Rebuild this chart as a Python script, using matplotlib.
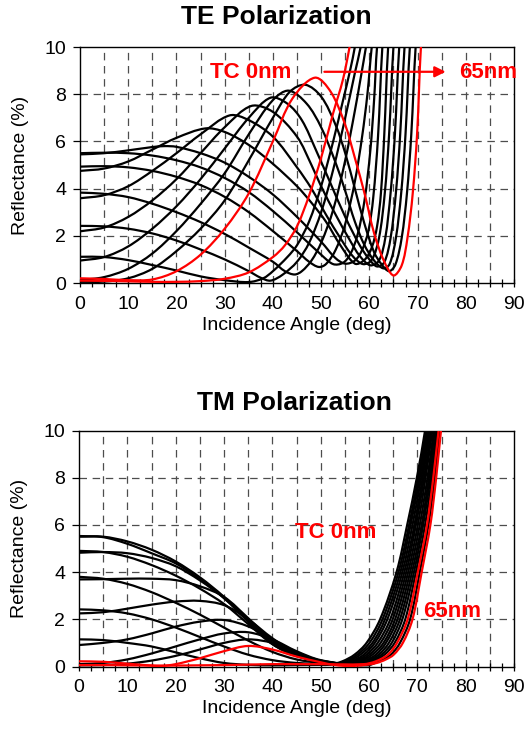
import numpy as np
import matplotlib
matplotlib.use("Agg")
import matplotlib.pyplot as plt
from matplotlib.path import Path
from matplotlib.patches import PathPatch
from matplotlib.ticker import MultipleLocator

plt.rcParams['font.family'] = ['Liberation Sans', 'DejaVu Sans']

# TC thickness of each curve (nm)
thickness = [0, 5, 10, 15, 20, 25, 30, 35, 40, 45, 50, 55, 60, 65]

# ---- TE polarization (deg, %) ----
te0_deg = [0, 5, 10, 15, 20, 25, 30, 35, 40, 42.5, 45, 47.5, 50, 52.5, 54.5, 55.9, 56.5]
te0_r = [0.1, 0.09, 0.07, 0.05, 0.05, 0.08, 0.18, 0.45, 1.1, 1.6, 2.4, 3.7, 5.3, 7.2, 8.6, 10, 10.8]
te5_deg = [0, 5, 10, 15, 20, 25, 30, 35, 38, 40, 43, 45, 47.5, 50, 52.5, 54.5, 56, 57, 57.6]
te5_r = [1.11, 1.1, 0.97, 0.76, 0.53, 0.28, 0.12, 0.04, 0.2, 0.5, 1.1, 1.6, 2.6, 4.1, 6.0, 7.7, 9.0, 10, 10.8]
te10_deg = [0, 5, 10, 15, 20, 25, 30, 35, 37.5, 39.5, 42, 45, 47.5, 50, 52.5, 55, 57, 58.2, 58.8]
te10_r = [2.42, 2.4, 2.3, 2.1, 1.8, 1.42, 1.0, 0.5, 0.22, 0.1, 0.35, 0.9, 1.7, 3.0, 4.8, 7.0, 8.9, 10, 10.8]
te15_deg = [0, 5, 10, 15, 20, 25, 30, 35, 40, 42.5, 44.5, 46, 48, 50, 52.5, 55, 57, 58.3, 59.3, 59.9]
te15_r = [3.83, 3.78, 3.64, 3.36, 3.0, 2.58, 2.08, 1.5, 0.9, 0.5, 0.36, 0.5, 0.95, 1.7, 3.1, 5.2, 7.3, 8.8, 10, 10.8]
te20_deg = [0, 5, 10, 15, 20, 25, 30, 35, 40, 45, 47.5, 49.5, 51, 53, 55, 57, 58.5, 59.6, 60.5, 61.1]
te20_r = [4.93, 4.95, 4.9, 4.75, 4.5, 4.15, 3.65, 3.0, 2.2, 1.35, 0.9, 0.68, 0.8, 1.4, 2.5, 4.3, 6.2, 8.0, 10, 10.8]
te25_deg = [0, 5, 10, 15, 20, 25, 30, 35, 40, 45, 50, 52.5, 54.5, 56, 57.5, 59, 60.2, 61, 61.6, 62.2]
te25_r = [5.5, 5.52, 5.5, 5.4, 5.2, 4.9, 4.45, 3.85, 3.05, 2.15, 1.2, 0.8, 0.85, 1.2, 2.0, 3.5, 5.6, 7.8, 10, 10.8]
te30_deg = [0, 5, 10, 15, 17.5, 20, 25, 30, 35, 40, 45, 50, 53, 55, 57, 58.5, 59.8, 60.8, 61.8, 62.7, 63.2]
te30_r = [5.45, 5.5, 5.62, 5.76, 5.8, 5.77, 5.5, 5.1, 4.5, 3.75, 2.8, 1.75, 1.05, 0.82, 0.95, 1.4, 2.2, 3.6, 6.2, 10, 10.8]
te35_deg = [0, 5, 10, 15, 20, 26, 30, 35, 40, 45, 48, 51, 54, 57, 59, 60.5, 61.6, 62.4, 63.1, 63.9, 64.4]
te35_r = [4.75, 4.85, 5.15, 5.65, 6.15, 6.55, 6.4, 5.85, 5.05, 4.1, 3.4, 2.6, 1.6, 0.82, 0.98, 1.5, 2.4, 3.8, 6.3, 10, 10.8]
te40_deg = [0, 5, 10, 15, 20, 25, 31, 35, 40, 45, 48, 51, 54, 56.5, 58.7, 60.5, 62, 63.2, 64.1, 65.0, 65.5]
te40_r = [3.59, 3.72, 4.1, 4.75, 5.5, 6.3, 7.1, 6.9, 6.2, 4.9, 4.0, 2.9, 1.9, 1.15, 0.8, 0.98, 1.9, 3.8, 6.3, 10, 10.8]
te45_deg = [0, 5, 10, 15, 20, 25, 30, 35.5, 40, 45, 48, 50, 53, 56, 58, 60.2, 62, 63.3, 64.4, 65.3, 66.2, 66.7]
te45_r = [2.19, 2.35, 2.8, 3.5, 4.4, 5.5, 6.6, 7.5, 7.25, 6.2, 5.0, 4.1, 2.9, 1.8, 1.15, 0.75, 0.95, 1.9, 3.8, 6.3, 10, 10.8]
te50_deg = [0, 5, 10, 15, 20, 25, 30, 35, 39.5, 43, 46, 49, 52, 55, 58, 60, 61.6, 63.1, 64.4, 65.5, 66.4, 67.3, 67.8]
te50_r = [0.95, 1.1, 1.55, 2.3, 3.25, 4.4, 5.7, 7.0, 7.85, 7.6, 6.9, 5.6, 4.2, 2.8, 1.6, 1.0, 0.7, 0.88, 1.9, 3.8, 6.3, 10, 10.8]
te55_deg = [0, 5, 10, 15, 20, 25, 30, 35, 40, 43.3, 47, 50, 53, 55, 57, 59, 61, 62.9, 64.2, 65.5, 66.6, 67.5, 68.4, 68.9]
te55_r = [0.12, 0.25, 0.6, 1.25, 2.2, 3.35, 4.65, 6.3, 7.75, 8.15, 7.6, 6.6, 5.1, 3.9, 2.6, 1.6, 0.95, 0.62, 0.8, 1.9, 3.8, 6.3, 10, 10.8]
te60_deg = [0, 5, 10, 15, 20, 25, 30, 35, 40, 43.5, 46.7, 50, 53, 55, 57, 59, 61, 62.5, 64.1, 65.4, 66.7, 67.8, 68.7, 69.6, 70.1]
te60_r = [0.05, 0.06, 0.2, 0.6, 1.35, 2.3, 3.5, 5.2, 7.0, 8.1, 8.4, 7.9, 6.7, 5.5, 4.0, 2.5, 1.3, 0.8, 0.5, 0.78, 1.9, 3.8, 6.3, 10, 10.8]
te65_deg = [0, 5, 10, 15, 20, 25, 30, 35, 40, 44, 48.7, 52, 55, 57, 59, 61, 63, 65, 66.7, 67.9, 69, 69.9, 70.7, 71.2]
te65_r = [0.2, 0.17, 0.12, 0.15, 0.5, 1.2, 2.3, 3.8, 6.0, 7.8, 8.7, 8.1, 6.7, 5.3, 3.8, 2.1, 0.95, 0.32, 0.74, 1.9, 3.8, 6.3, 10, 10.8]

# ---- TM polarization ----
tm0_deg = [0, 5, 10, 15, 20, 25, 30, 35, 40, 45, 50, 58.9, 61.4, 63.9, 65.8, 68.0, 70.1, 72.0, 73.3, 74.4, 74.9]
tm0_r = [0.06, 0.06, 0.05, 0.04, 0.04, 0.05, 0.06, 0.08, 0.1, 0.1, 0.1, 0.1, 0.22, 0.5, 1, 2, 4, 6, 8, 10, 10.8]
tm5_deg = [0, 5, 10, 15, 20, 25, 30, 35, 40, 45, 50, 52, 54.5, 57.0, 59.5, 62.3, 65.7, 67.9, 69.9, 71.6, 72.1]
tm5_r = [1.15, 1.12, 1.0, 0.85, 0.6, 0.35, 0.15, 0.07, 0.05, 0.06, 0.07, 0.08, 0.22, 0.5, 1, 2, 4, 6, 8, 10, 10.8]
tm10_deg = [0, 5, 10, 15, 20, 25, 30, 35, 40, 45, 50, 52.6, 55.1, 57.6, 60.1, 62.8, 66.1, 68.3, 70.2, 71.9, 72.4]
tm10_r = [2.42, 2.38, 2.25, 2.0, 1.65, 1.25, 0.85, 0.5, 0.27, 0.15, 0.11, 0.1, 0.22, 0.5, 1, 2, 4, 6, 8, 10, 10.8]
tm15_deg = [0, 5, 10, 15, 20, 25, 30, 35, 40, 45, 50, 53.2, 55.7, 58.2, 60.7, 63.3, 66.5, 68.6, 70.5, 72.1, 72.6]
tm15_r = [3.8, 3.72, 3.5, 3.15, 2.7, 2.2, 1.65, 1.1, 0.62, 0.3, 0.15, 0.12, 0.22, 0.5, 1, 2, 4, 6, 8, 10, 10.8]
tm20_deg = [0, 5, 10, 15, 20, 25, 30, 35, 40, 45, 50, 53.9, 56.4, 58.9, 61.2, 63.8, 66.9, 69.0, 70.8, 72.4, 72.9]
tm20_r = [4.9, 4.85, 4.65, 4.3, 3.85, 3.3, 2.65, 1.8, 0.95, 0.45, 0.22, 0.12, 0.22, 0.5, 1, 2, 4, 6, 8, 10, 10.8]
tm25_deg = [0, 5, 10, 15, 20, 25, 30, 35, 40, 45, 50, 54.5, 57.0, 59.5, 61.8, 64.4, 67.3, 69.4, 71.1, 72.6, 73.1]
tm25_r = [5.53, 5.48, 5.2, 4.8, 4.37, 3.7, 2.9, 1.9, 0.95, 0.45, 0.22, 0.12, 0.22, 0.5, 1, 2, 4, 6, 8, 10, 10.8]
tm30_deg = [0, 5, 10, 15, 20, 25, 30, 35, 40, 45, 50, 55.1, 57.6, 60.1, 62.4, 64.9, 67.7, 69.7, 71.4, 72.9, 73.4]
tm30_r = [5.5, 5.5, 5.3, 4.95, 4.45, 3.78, 2.95, 1.95, 1.0, 0.47, 0.22, 0.12, 0.22, 0.5, 1, 2, 4, 6, 8, 10, 10.8]
tm35_deg = [0, 5, 10, 15, 20, 25, 30, 35, 40, 45, 50, 55.7, 58.2, 60.7, 63.0, 65.4, 68.1, 70.1, 71.7, 73.1, 73.6]
tm35_r = [4.82, 4.85, 4.8, 4.6, 4.25, 3.65, 2.9, 1.95, 1.0, 0.48, 0.22, 0.1, 0.22, 0.5, 1, 2, 4, 6, 8, 10, 10.8]
tm40_deg = [0, 5, 10, 15, 20, 25, 30, 35, 40, 45, 50, 56.4, 58.9, 61.4, 63.5, 65.9, 68.5, 70.5, 72.1, 73.4, 73.9]
tm40_r = [3.69, 3.7, 3.72, 3.72, 3.66, 3.4, 2.95, 2.05, 1.1, 0.5, 0.22, 0.1, 0.22, 0.5, 1, 2, 4, 6, 8, 10, 10.8]
tm45_deg = [0, 5, 10, 15, 20, 25, 30, 35, 40, 45, 50, 57.0, 59.5, 62.0, 64.1, 66.4, 68.9, 70.9, 72.4, 73.6, 74.1]
tm45_r = [2.25, 2.3, 2.45, 2.62, 2.75, 2.78, 2.6, 2.0, 1.2, 0.55, 0.22, 0.08, 0.22, 0.5, 1, 2, 4, 6, 8, 10, 10.8]
tm50_deg = [0, 5, 10, 15, 20, 25, 30, 35, 40, 45, 50, 57.6, 60.1, 62.6, 64.7, 66.9, 69.3, 71.2, 72.7, 73.9, 74.4]
tm50_r = [0.91, 1.0, 1.15, 1.4, 1.69, 1.9, 1.97, 1.7, 1.15, 0.6, 0.25, 0.07, 0.22, 0.5, 1, 2, 4, 6, 8, 10, 10.8]
tm55_deg = [0, 5, 10, 15, 20, 25, 30, 35, 40, 45, 50, 58.2, 60.7, 63.2, 65.3, 67.5, 69.7, 71.6, 73.0, 74.1, 74.6]
tm55_r = [0.1, 0.15, 0.3, 0.55, 0.85, 1.15, 1.4, 1.45, 1.15, 0.65, 0.27, 0.06, 0.22, 0.5, 1, 2, 4, 6, 8, 10, 10.8]
tm60_deg = [0, 5, 10, 15, 20, 25, 30, 35, 40, 45, 50, 59.5, 62.0, 64.5, 66.4, 68.5, 70.5, 72.3, 73.6, 74.6, 75.1]
tm60_r = [0.05, 0.06, 0.12, 0.25, 0.45, 0.72, 1.0, 1.15, 1.0, 0.6, 0.25, 0.05, 0.22, 0.5, 1, 2, 4, 6, 8, 10, 10.8]
tm65_deg = [0, 5, 10, 15, 17, 20, 25, 30, 35, 40, 45, 50, 53, 56, 59, 61.6, 63.5, 65.1, 67.0, 69.0, 70.9, 72.7, 73.9, 74.9, 75.4]
tm65_r = [0.22, 0.2, 0.12, 0.04, 0.02, 0.1, 0.35, 0.65, 0.87, 0.72, 0.42, 0.18, 0.06, 0.02, 0.06, 0.15, 0.3, 0.5, 1, 2, 4, 6, 8, 10, 10.8]

te_curves = [(te0_deg, te0_r), (te5_deg, te5_r), (te10_deg, te10_r), (te15_deg, te15_r),
             (te20_deg, te20_r), (te25_deg, te25_r), (te30_deg, te30_r), (te35_deg, te35_r),
             (te40_deg, te40_r), (te45_deg, te45_r), (te50_deg, te50_r), (te55_deg, te55_r),
             (te60_deg, te60_r), (te65_deg, te65_r)]
tm_curves = [(tm0_deg, tm0_r), (tm5_deg, tm5_r), (tm10_deg, tm10_r), (tm15_deg, tm15_r),
             (tm20_deg, tm20_r), (tm25_deg, tm25_r), (tm30_deg, tm30_r), (tm35_deg, tm35_r),
             (tm40_deg, tm40_r), (tm45_deg, tm45_r), (tm50_deg, tm50_r), (tm55_deg, tm55_r),
             (tm60_deg, tm60_r), (tm65_deg, tm65_r)]


def smooth_path(x, y, sx=4.82, sy=23.6):
    # Excel-style "smoothed line": cubic Bezier segments through the read points
    pts = np.column_stack([x, y]).astype(float)
    n = len(pts)
    d = np.hypot(np.diff(pts[:, 0]) * sx, np.diff(pts[:, 1]) * sy)
    t = np.concatenate([[0], np.cumsum(d)])
    tang = np.zeros_like(pts)
    tang[0] = (pts[1] - pts[0]) / (t[1] - t[0])
    tang[-1] = (pts[-1] - pts[-2]) / (t[-1] - t[-2])
    for i in range(1, n - 1):
        tang[i] = (pts[i + 1] - pts[i - 1]) / (t[i + 1] - t[i - 1])
    verts = [pts[0]]
    codes = [Path.MOVETO]
    for i in range(n - 1):
        h = t[i + 1] - t[i]
        verts += [pts[i] + tang[i] * h / 3, pts[i + 1] - tang[i + 1] * h / 3, pts[i + 1]]
        codes += [Path.CURVE4] * 3
    return Path(verts, codes)


def style_axes(ax):
    ax.set_xlim(0, 90)
    ax.set_ylim(0, 10)
    # dashed grid every 5 deg / 2 %
    for gx in range(5, 90, 5):
        ax.axvline(gx, color='0.3', lw=0.9, dashes=(6, 4.5), zorder=1)
    for gy in range(2, 10, 2):
        ax.axhline(gy, color='0.3', lw=0.9, dashes=(6, 4.5), zorder=1)
    ax.xaxis.set_major_locator(MultipleLocator(10))
    ax.xaxis.set_minor_locator(MultipleLocator(2.5))
    ax.yaxis.set_major_locator(MultipleLocator(2))
    ax.tick_params(axis='x', which='both', direction='inout', length=6, width=0.9, labelsize=14, pad=6)
    ax.tick_params(axis='y', which='major', direction='out', length=5, width=0.9, labelsize=14, pad=5)
    for sp in ax.spines.values():
        sp.set_linewidth(1.0)
        sp.set_color('black')
    ax.set_xlabel('Incidence Angle (deg)', fontsize=14, labelpad=3)
    ax.set_ylabel('Reflectance (%)', fontsize=14, labelpad=11)


def draw_curves(ax, curves):
    last = len(curves) - 1
    for k, (x, y) in enumerate(curves):
        red = k in (0, last)
        patch = PathPatch(smooth_path(x, y), facecolor='none',
                          edgecolor='#ff0000' if red else 'black',
                          lw=1.6, zorder=4 if red else 3, joinstyle='round', capstyle='round')
        ax.add_patch(patch)


fig = plt.figure(figsize=(5.27, 7.48), dpi=100)

ax1 = fig.add_axes([80 / 527, 1 - 283 / 748, 434 / 527, 236 / 748])
style_axes(ax1)
draw_curves(ax1, te_curves)
ax1.text(27, 8.92, 'TC 0nm', color='#ff0000', fontsize=16, fontweight='bold', va='center', ha='left', zorder=6)
ax1.annotate('', xy=(76.4, 8.95), xytext=(50.1, 8.95),
             arrowprops=dict(arrowstyle='-|>', color='#ff0000', lw=1.6, mutation_scale=16), zorder=6,
             annotation_clip=False)
ax1.text(78.6, 8.92, '65nm', color='#ff0000', fontsize=16, fontweight='bold', va='center', ha='left',
         clip_on=False, zorder=6)
fig.text(276 / 527, 1 - 17 / 748, 'TE Polarization', fontsize=19, fontweight='bold', ha='center', va='center')

ax2 = fig.add_axes([79 / 527, 1 - 666.5 / 748, 435 / 527, 236 / 748])
style_axes(ax2)
draw_curves(ax2, tm_curves)
ax2.text(44.7, 5.66, 'TC 0nm', color='#ff0000', fontsize=16, fontweight='bold', va='center', ha='left', zorder=6)
ax2.text(71.2, 2.33, '65nm', color='#ff0000', fontsize=16, fontweight='bold', va='center', ha='left', zorder=6)
fig.text(294 / 527, 1 - 403 / 748, 'TM Polarization', fontsize=19, fontweight='bold', ha='center', va='center')

fig.savefig('out.png', dpi=100)
